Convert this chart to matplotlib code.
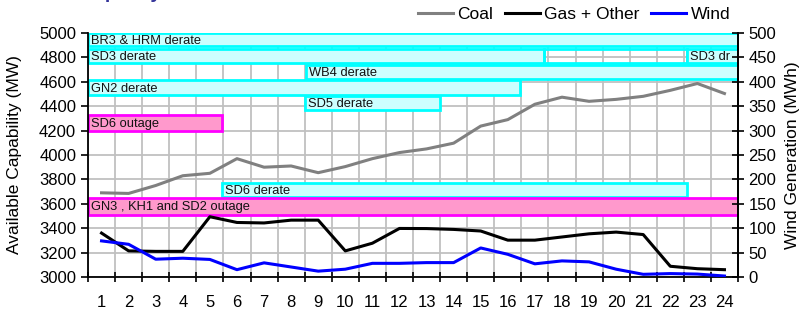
import matplotlib
matplotlib.use("Agg")
import matplotlib.pyplot as plt
from matplotlib.lines import Line2D

plt.rcParams['font.family'] = ['Liberation Sans', 'DejaVu Sans']

hours = list(range(1, 25))
coal = [3690, 3685, 3750, 3830, 3850, 3970, 3900, 3910, 3855, 3905, 3970, 4020,
        4050, 4097, 4237, 4290, 4416, 4474, 4440, 4456, 4481, 4530, 4586, 4504]
gas_other = [3360, 3214, 3210, 3210, 3494, 3447, 3443, 3466, 3466, 3214, 3277, 3398,
             3397, 3390, 3377, 3302, 3302, 3328, 3354, 3368, 3348, 3088, 3068, 3060]
wind = [74, 67, 36.5, 38.5, 36, 15, 29, 20.5, 12, 16, 28, 28,
        29.5, 29.5, 59.5, 46.5, 27, 33, 31, 16, 5.5, 7, 6, 2]

# outage / derate boxes: label, start hour boundary, end hour boundary, MW low, MW high, kind
box_labels = ["BR3 & HRM derate", "SD3 derate", "", "SD3 dr", "WB4 derate", "GN2 derate",
              "SD5 derate", "SD6 outage", "SD6 derate", "GN3 , KH1 and SD2 outage"]
box_start = [0, 0, 16.85, 22.1, 8.05, 0, 8.0, 0, 4.95, 0]
box_end = [24, 16.85, 22.1, 24, 24, 15.95, 13.0, 4.95, 22.1, 24]
box_low = [4890, 4752, 4752, 4752, 4625, 4492, 4370, 4197, 3655, 3508]
box_high = [5000, 4870, 4870, 4870, 4738, 4612, 4486, 4328, 3770, 3648]
box_kind = ["derate", "derate", "empty", "derate", "derate", "derate",
            "derate", "outage", "derate", "outage"]

fig = plt.figure(figsize=(8.04, 3.14), dpi=100)
ax = fig.add_axes([88 / 804, 1 - 277 / 314, 650 / 804, 244 / 314])

ax.set_xlim(0, 24)
ax.set_ylim(3000, 5000)
ax.set_yticks(range(3000, 5001, 200))
ax.set_xticks(range(0, 25))
ax.set_xticklabels([])
ax.set_xticks([h - 0.5 for h in hours], minor=True)
ax.set_xticklabels([str(h) for h in hours], minor=True)
ax.tick_params(axis='x', which='major', direction='inout', length=7, width=1.2, color='black')
ax.tick_params(axis='x', which='minor', length=0, labelsize=12, pad=13)
ax.tick_params(axis='y', direction='out', length=5, width=1.2, labelsize=12)
ax.grid(True, which='major', color='#C0C0C0', lw=1.3, zorder=0)
ax.set_axisbelow(True)
for s in ['left', 'bottom', 'right']:
    ax.spines[s].set_linewidth(1.3)
ax.spines['top'].set_visible(False)

styles = {
    "derate": dict(facecolor='#CCFFFF', edgecolor='#00FFFF'),
    "outage": dict(facecolor='#FF99CC', edgecolor='#FF00FF'),
    "empty": dict(facecolor='none', edgecolor='#00FFFF'),
}
for lab, s0, s1, lo, hi, kind in zip(box_labels, box_start, box_end, box_low, box_high, box_kind):
    ax.barh((lo + hi) / 2, s1 - s0, left=s0, height=hi - lo, linewidth=2,
            align='center', zorder=2, **styles[kind])
    if lab:
        ax.text(s0 + 0.12, (lo + hi) / 2 - 8, lab, fontsize=9.3, va='center', ha='left',
                zorder=3, color='#111111')

xc = [h - 0.5 for h in hours]
ax.plot(xc, coal, color='#808080', lw=2.2, zorder=4)
ax.plot(xc, gas_other, color='black', lw=2.2, zorder=4)

ax2 = ax.twinx()
ax2.set_ylim(0, 500)
ax2.set_yticks(range(0, 501, 50))
ax2.plot(xc, wind, color='#0000FF', lw=2.2, zorder=4)
ax2.tick_params(axis='y', direction='inout', length=8, width=1.2, labelsize=12)
for s in ax2.spines.values():
    s.set_visible(False)
ax2.spines['right'].set_visible(True)
ax2.spines['right'].set_linewidth(1.3)

ax.set_ylabel("Available Capability (MW)", fontsize=12.5, labelpad=12)
ax2.set_ylabel("Wind Generation (MWh)", fontsize=12.5, labelpad=6)

handles = [Line2D([], [], color='#808080', lw=2.2),
           Line2D([], [], color='black', lw=2.2),
           Line2D([], [], color='#0000FF', lw=2.2)]
fig.legend(handles, ["Coal", "Gas + Other", "Wind"], loc='center',
           bbox_to_anchor=(574 / 804, 1 - 14 / 314), ncol=3, frameon=False,
           fontsize=12.5, handlelength=2.0, handletextpad=0.25, columnspacing=0.7,
           borderaxespad=0, borderpad=0)

fig.text(80 / 804, 1 + 1.5 / 314, "Capacity", fontsize=14, fontweight='bold',
         color='#333399', ha='left', va='baseline')

fig.savefig("out.png", dpi=100)
